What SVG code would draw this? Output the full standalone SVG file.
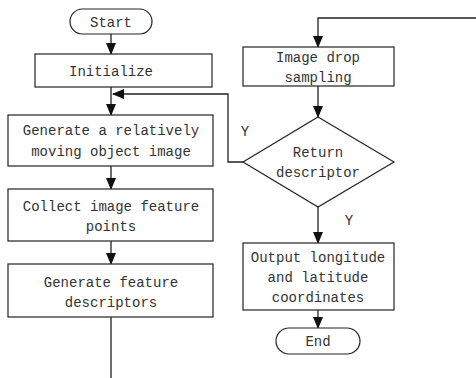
<svg xmlns="http://www.w3.org/2000/svg" width="476" height="378" viewBox="0 0 476 378">
<style>
.n{fill:#fff;stroke:#222;stroke-width:1.2}
.c{fill:none;stroke:#222;stroke-width:1.3}
text{font-family:"Liberation Mono","DejaVu Sans Mono",monospace;font-size:14px;fill:#333;text-anchor:middle}
</style>
<defs>
<marker id="a" markerWidth="12" markerHeight="12" refX="11" refY="5" orient="auto" markerUnits="userSpaceOnUse" viewBox="0 0 12 10">
<path d="M0,0 L12,5 L0,10 Z" fill="#111"/>
</marker>
</defs>
<g id="connectors">
<line class="c" x1="111" y1="34" x2="111" y2="54" marker-end="url(#a)"/>
<line class="c" x1="111" y1="87" x2="111" y2="115" marker-end="url(#a)"/>
<polyline class="c" points="243,162 228,162 228,94 113,94" marker-end="url(#a)"/>
<line class="c" x1="111" y1="166" x2="111" y2="189" marker-end="url(#a)"/>
<line class="c" x1="111" y1="241" x2="111" y2="264" marker-end="url(#a)"/>
<line class="c" x1="111" y1="317" x2="111" y2="378"/>
<polyline class="c" points="476,18 318,18 318,47" marker-end="url(#a)"/>
<line class="c" x1="318" y1="86" x2="318" y2="117" marker-end="url(#a)"/>
<line class="c" x1="318" y1="207" x2="318" y2="243" marker-end="url(#a)"/>
<line class="c" x1="318" y1="310" x2="318" y2="328" marker-end="url(#a)"/>
<text x="245" y="136">Y</text>
<text x="349" y="225">Y</text>
</g>
<g id="start"><rect class="n" x="70" y="9" width="82" height="25" rx="12.5"/><text x="111" y="27">Start</text></g>
<g id="init"><rect class="n" x="35" y="54" width="177" height="33"/><text x="111" y="76">Initialize</text></g>
<g id="generate"><rect class="n" x="8" y="115" width="205" height="51"/><text x="111" y="135">Generate a relatively</text><text x="111" y="156">moving object image</text></g>
<g id="collect"><rect class="n" x="8" y="189" width="205" height="52"/><text x="111" y="211">Collect image feature</text><text x="111" y="231">points</text></g>
<g id="descriptors"><rect class="n" x="8" y="264" width="205" height="53"/><text x="111" y="287">Generate feature</text><text x="111" y="307">descriptors</text></g>
<g id="drop"><rect class="n" x="243" y="47" width="151" height="39"/><text x="318" y="62">Image drop</text><text x="318" y="82">sampling</text></g>
<g id="return"><polygon class="n" points="318,117 394,162 318,207 243,162"/><text x="318" y="157">Return</text><text x="318" y="177">descriptor</text></g>
<g id="output"><rect class="n" x="243" y="243" width="151" height="67"/><text x="318" y="262">Output longitude</text><text x="318" y="282">and latitude</text><text x="318" y="302">coordinates</text></g>
<g id="end"><rect class="n" x="276" y="328" width="84" height="26" rx="13"/><text x="318" y="346">End</text></g>
</svg>
